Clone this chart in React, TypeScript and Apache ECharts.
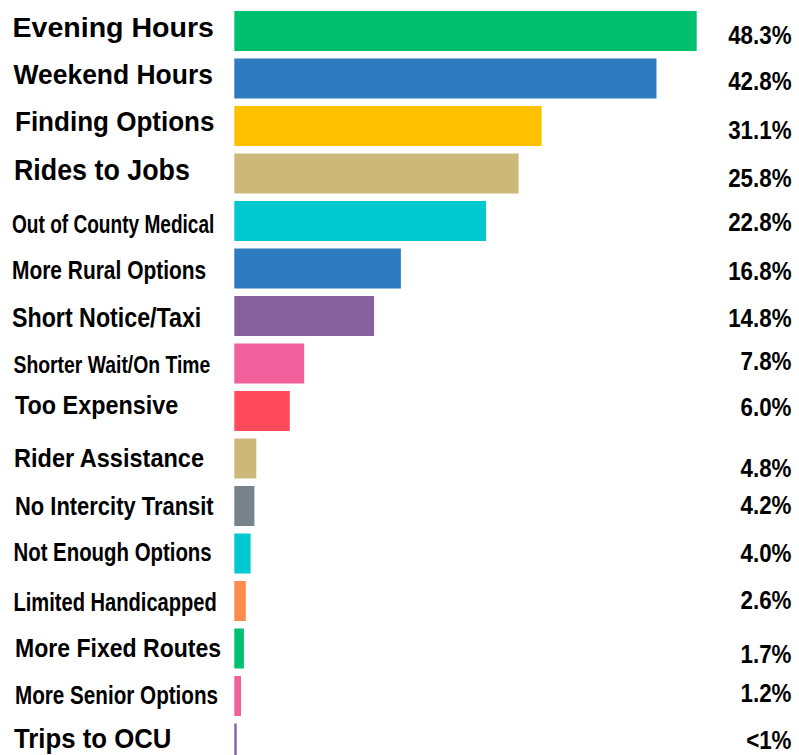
import React, { useEffect, useRef } from "react";
import * as echarts from "echarts";

// Categories (top to bottom)
const categories = [
  "Evening Hours",
  "Weekend Hours",
  "Finding Options",
  "Rides to Jobs",
  "Out of County Medical",
  "More Rural Options",
  "Short Notice/Taxi",
  "Shorter Wait/On Time",
  "Too Expensive",
  "Rider Assistance",
  "No Intercity Transit",
  "Not Enough Options",
  "Limited Handicapped",
  "More Fixed Routes",
  "More Senior Options",
  "Trips to OCU",
];

// Bar lengths as drawn in the picture (in % units, scaled to the longest bar)
const barLengths = [48.3, 44.1, 32.1, 29.7, 26.3, 17.4, 14.6, 7.3, 5.8, 2.3, 2.1, 1.7, 1.2, 1.0, 0.7, 0.25];

// Printed value labels
const valueLabels = ["48.3%", "42.8%", "31.1%", "25.8%", "22.8%", "16.8%", "14.8%", "7.8%", "6.0%", "4.8%", "4.2%", "4.0%", "2.6%", "1.7%", "1.2%", "<1%"];

// ---- Styling (kept apart from the data) ----
const barColors = [
  "#00BF6F", "#2E7BBF", "#FFC000", "#CCB97A", "#00C8D0", "#2E7BBF", "#86609A", "#F0609A",
  "#FF4A5C", "#CCB97A", "#76838B", "#00C8D0", "#FF8B4D", "#00BF6F", "#F0609A", "#86609A",
];
const FONT = "'Liberation Sans', Arial, Helvetica, sans-serif";
// [left x, fontSize, scaleX, vertical shift from bar centre]
const leftStyle: [number, number, number, number][] = [
  [12.5, 28, 1.02, -4.3],
  [13.5, 28, 0.945, -4.4],
  [15, 28, 0.93, -4.7],
  [14, 29, 0.925, -3],
  [12, 26.5, 0.72, 2.5],
  [12, 26.5, 0.79, 1],
  [12, 28, 0.83, 1.3],
  [13.5, 24.7, 0.784, 1.2],
  [15, 25.6, 0.913, -6.3],
  [14, 26.5, 0.888, -0.8],
  [15, 25.6, 0.857, 0],
  [13.5, 25.6, 0.797, -1.8],
  [13.5, 26.5, 0.759, 0.8],
  [15, 26.5, 0.87, -0.6],
  [15, 25.6, 0.807, -0.9],
  [14, 28, 0.92, -5],
];
const rightShift = [4, 2, 4, 4, 1, 2, 2, -3, -4, 9, -1, -1, -1, 5, -3, -4];
const RIGHT_X = 791.5;

export default function App() {
  const ref = useRef<HTMLDivElement>(null);
  useEffect(() => {
    if (!ref.current) return;
    const chart = echarts.init(ref.current, null, { renderer: "svg" });
    chart.setOption({
      animation: false,
      backgroundColor: "#ffffff",
      grid: { left: 234.3, top: 7.25, width: 462.4, height: 760, containLabel: false },
      xAxis: { type: "value", min: 0, max: 48.3, show: false },
      yAxis: {
        type: "category",
        inverse: true,
        data: categories,
        axisLine: { show: false },
        axisTick: { show: false },
        splitLine: { show: false },
        axisLabel: { show: false },
      },
      series: [
        {
          type: "bar",
          barWidth: 40,
          data: barLengths.map((v, i) => ({ value: v, itemStyle: { color: barColors[i] } })),
        },
      ],
    });

    const elements: any[] = [];
    categories.forEach((name, i) => {
      const yc = chart.convertToPixel({ yAxisIndex: 0 }, name) as number;
      const [lx, fs, sx, sh] = leftStyle[i];
      elements.push({
        type: "text",
        x: lx,
        y: yc + sh,
        scaleX: sx,
        silent: true,
        style: {
          text: name,
          fill: "#000",
          fontSize: fs,
          fontFamily: FONT,
          fontWeight: "bold",
          align: "left",
          verticalAlign: "middle",
        },
      });
      elements.push({
        type: "text",
        x: RIGHT_X,
        y: yc + rightShift[i],
        scaleX: 0.86,
        silent: true,
        style: {
          text: valueLabels[i],
          fill: "#000",
          fontSize: 26,
          fontFamily: FONT,
          fontWeight: "bold",
          align: "right",
          verticalAlign: "middle",
        },
      });
    });
    chart.setOption({ graphic: { elements } });
    return () => chart.dispose();
  }, []);
  return (
    <div style={{ position: "absolute", left: 0, top: 0, width: 799, height: 755, overflow: "hidden", background: "#fff" }}>
      <div ref={ref} style={{ width: 799, height: 768 }} />
    </div>
  );
}
